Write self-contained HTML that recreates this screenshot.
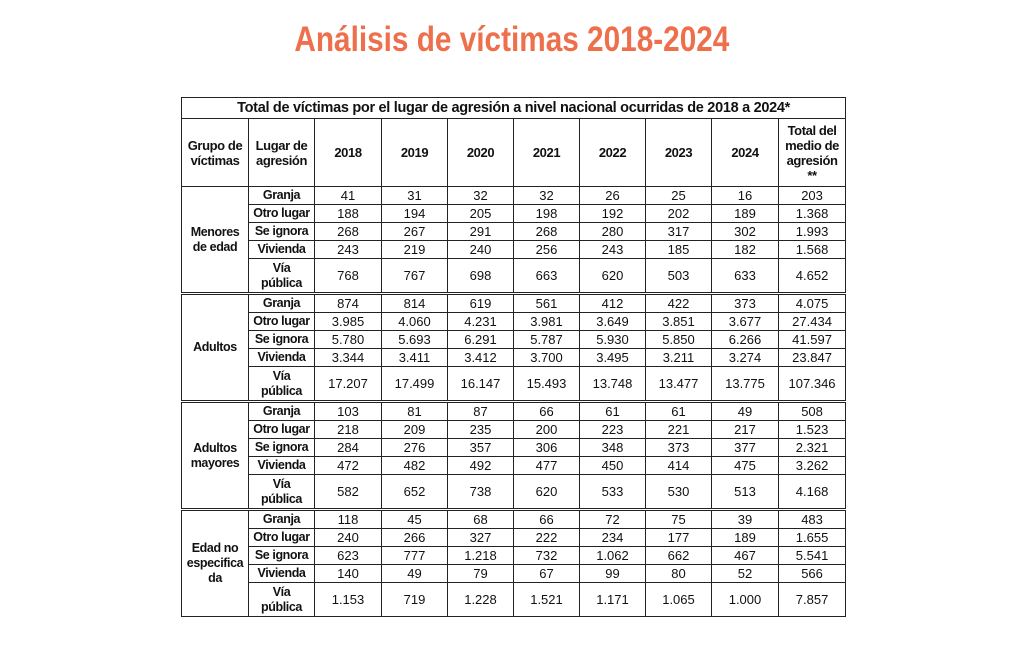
<!DOCTYPE html>
<html><head><meta charset="utf-8"><style>
body{margin:0;width:1024px;height:656px;background:#fff;font-family:"Liberation Sans",sans-serif;color:#111;position:relative;overflow:hidden}
h1{position:absolute;top:20px;left:0;width:1024px;text-align:center;margin:0;font-size:35px;font-weight:bold;color:#ee6f4c}
h1 span{display:inline-block;transform:scaleX(0.85)}
table{position:absolute;left:181px;top:97px;border-collapse:collapse;table-layout:fixed;width:664px}
td{border:1px solid #222;text-align:center;font-size:13px;padding:0;line-height:15px;overflow:hidden;white-space:nowrap}
td.b{font-weight:bold;font-size:12.5px;letter-spacing:-0.4px}
tr.t td{height:20px;font-weight:bold;font-size:14.5px;letter-spacing:-0.3px;border:1.5px solid #222}
tr.h td{height:67px;font-weight:bold;font-size:13px;letter-spacing:-0.4px}
tr.r td{height:17px}
tr.v td{height:33px}
tr.g td{border-top:3px double #222}
</style></head><body>
<h1><span>Análisis de víctimas 2018-2024</span></h1>
<table>
<colgroup><col style="width:67px"><col style="width:66px"><col style="width:67px"><col style="width:66px"><col style="width:66px"><col style="width:66px"><col style="width:66px"><col style="width:66px"><col style="width:67px"><col style="width:67px"></colgroup>
<tr class="t"><td colspan="10">Total de víctimas por el lugar de agresión a nivel nacional ocurridas de 2018 a 2024*</td></tr>
<tr class="h"><td>Grupo de<br>víctimas</td><td>Lugar de<br>agresión</td><td>2018</td><td>2019</td><td>2020</td><td>2021</td><td>2022</td><td>2023</td><td>2024</td><td>Total del<br>medio de<br>agresión<br>**</td></tr>

<tr class="r"><td class="b" rowspan="5">Menores<br>de edad</td><td class="b">Granja</td><td>41</td><td>31</td><td>32</td><td>32</td><td>26</td><td>25</td><td>16</td><td>203</td></tr>
<tr class="r"><td class="b">Otro lugar</td><td>188</td><td>194</td><td>205</td><td>198</td><td>192</td><td>202</td><td>189</td><td>1.368</td></tr>
<tr class="r"><td class="b">Se ignora</td><td>268</td><td>267</td><td>291</td><td>268</td><td>280</td><td>317</td><td>302</td><td>1.993</td></tr>
<tr class="r"><td class="b">Vivienda</td><td>243</td><td>219</td><td>240</td><td>256</td><td>243</td><td>185</td><td>182</td><td>1.568</td></tr>
<tr class="v"><td class="b">Vía<br>pública</td><td>768</td><td>767</td><td>698</td><td>663</td><td>620</td><td>503</td><td>633</td><td>4.652</td></tr>

<tr class="r g"><td class="b" rowspan="5">Adultos</td><td class="b">Granja</td><td>874</td><td>814</td><td>619</td><td>561</td><td>412</td><td>422</td><td>373</td><td>4.075</td></tr>
<tr class="r"><td class="b">Otro lugar</td><td>3.985</td><td>4.060</td><td>4.231</td><td>3.981</td><td>3.649</td><td>3.851</td><td>3.677</td><td>27.434</td></tr>
<tr class="r"><td class="b">Se ignora</td><td>5.780</td><td>5.693</td><td>6.291</td><td>5.787</td><td>5.930</td><td>5.850</td><td>6.266</td><td>41.597</td></tr>
<tr class="r"><td class="b">Vivienda</td><td>3.344</td><td>3.411</td><td>3.412</td><td>3.700</td><td>3.495</td><td>3.211</td><td>3.274</td><td>23.847</td></tr>
<tr class="v"><td class="b">Vía<br>pública</td><td>17.207</td><td>17.499</td><td>16.147</td><td>15.493</td><td>13.748</td><td>13.477</td><td>13.775</td><td>107.346</td></tr>

<tr class="r g"><td class="b" rowspan="5">Adultos<br>mayores</td><td class="b">Granja</td><td>103</td><td>81</td><td>87</td><td>66</td><td>61</td><td>61</td><td>49</td><td>508</td></tr>
<tr class="r"><td class="b">Otro lugar</td><td>218</td><td>209</td><td>235</td><td>200</td><td>223</td><td>221</td><td>217</td><td>1.523</td></tr>
<tr class="r"><td class="b">Se ignora</td><td>284</td><td>276</td><td>357</td><td>306</td><td>348</td><td>373</td><td>377</td><td>2.321</td></tr>
<tr class="r"><td class="b">Vivienda</td><td>472</td><td>482</td><td>492</td><td>477</td><td>450</td><td>414</td><td>475</td><td>3.262</td></tr>
<tr class="v"><td class="b">Vía<br>pública</td><td>582</td><td>652</td><td>738</td><td>620</td><td>533</td><td>530</td><td>513</td><td>4.168</td></tr>

<tr class="r g"><td class="b" rowspan="5">Edad no<br>especifica<br>da</td><td class="b">Granja</td><td>118</td><td>45</td><td>68</td><td>66</td><td>72</td><td>75</td><td>39</td><td>483</td></tr>
<tr class="r"><td class="b">Otro lugar</td><td>240</td><td>266</td><td>327</td><td>222</td><td>234</td><td>177</td><td>189</td><td>1.655</td></tr>
<tr class="r"><td class="b">Se ignora</td><td>623</td><td>777</td><td>1.218</td><td>732</td><td>1.062</td><td>662</td><td>467</td><td>5.541</td></tr>
<tr class="r"><td class="b">Vivienda</td><td>140</td><td>49</td><td>79</td><td>67</td><td>99</td><td>80</td><td>52</td><td>566</td></tr>
<tr class="v"><td class="b">Vía<br>pública</td><td>1.153</td><td>719</td><td>1.228</td><td>1.521</td><td>1.171</td><td>1.065</td><td>1.000</td><td>7.857</td></tr>
</table>
</body></html>
